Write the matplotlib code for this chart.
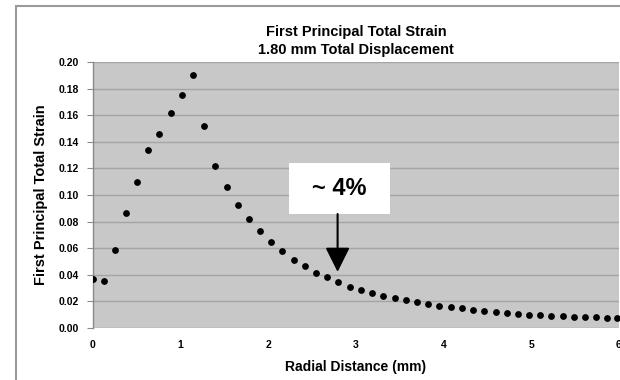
"""
First principal total strain vs radial distance, 1.80 mm displacement.
"""

import matplotlib
matplotlib.use('Agg')
import matplotlib.pyplot as plt
from matplotlib.patches import Rectangle
import numpy as np

# Values
radial_mm = [0.00, 0.12, 0.25, 0.375, 0.50, 0.626, 0.757, 0.886, 1.011, 1.14,
             1.266, 1.392, 1.526, 1.651, 1.78, 1.906, 2.03, 2.16, 2.29, 2.417,
             2.543, 2.67, 2.80, 2.93, 3.057, 3.186, 3.31, 3.44, 3.567, 3.694,
             3.823, 3.952, 4.078, 4.208, 4.334, 4.459, 4.592, 4.718, 4.843, 4.974,
             5.10, 5.229, 5.358, 5.483, 5.609, 5.739, 5.865, 5.98]
strain = [0.037, 0.035, 0.059, 0.0867, 0.110, 0.134, 0.146, 0.162, 0.175, 0.190,
          0.152, 0.122, 0.106, 0.0927, 0.082, 0.073, 0.0646, 0.0576, 0.0515, 0.0465,
          0.0414, 0.038, 0.0344, 0.0312, 0.0286, 0.0261, 0.0244, 0.0226, 0.0213, 0.0196,
          0.0181, 0.0169, 0.0161, 0.0148, 0.0139, 0.0128, 0.0118, 0.0111, 0.0106, 0.0101,
          0.0096, 0.0090, 0.0088, 0.0086, 0.0083, 0.0081, 0.0078, 0.0078]

x_ticks = [0, 1, 2, 3, 4, 5, 6]
y_ticks = [0.00, 0.02, 0.04, 0.06, 0.08, 0.10, 0.12, 0.14, 0.16, 0.18, 0.20]

callout_text = '~ 4%'
callout_x = 2.79
callout_tip = 0.0422

plt.rcParams['font.family'] = ['Liberation Sans', 'DejaVu Sans']
plt.rcParams['font.weight'] = 'bold'

fig = plt.figure(figsize=(6.2, 3.8), dpi=100)
ax = fig.add_axes([93 / 620, 1 - 328 / 380, 526 / 620, 266 / 380])

# outer chart frame (cropped at right and bottom)
fig.patches.append(Rectangle((16 / 620, -0.1), 1.2, 0.1 + 1 - 6 / 380,
                             transform=fig.transFigure, fill=False,
                             edgecolor='#9a9a9a', lw=1.5))

ax.set_facecolor('#c8c8c8')
ax.scatter(radial_mm, strain, s=24, color='black', zorder=3, linewidths=0)

ax.set_xlim(0, 6)
ax.set_ylim(0, 0.20)
ax.set_xticks(x_ticks)
ax.set_yticks(y_ticks)
ax.set_xticklabels([str(t) for t in x_ticks])
ax.set_yticklabels([f'{t:.2f}' for t in y_ticks])
ax.tick_params(axis='x', length=0, pad=9, labelsize=7.5)
ax.tick_params(axis='y', length=4, width=0.8, color='#8a8a8a', pad=6, labelsize=7.5)
ax.grid(True, axis='y', color='#a4a4a4', lw=1.0)
ax.set_axisbelow(True)
for side in ['top', 'right', 'bottom']:
    ax.spines[side].set_visible(False)
ax.spines['left'].set_color('#8a8a8a')
ax.spines['left'].set_linewidth(1.0)

ax.set_xlabel('Radial Distance (mm)', fontsize=10, fontweight='bold', labelpad=7)
ax.set_ylabel('First Principal Total Strain', fontsize=10.5, fontweight='bold', labelpad=8)
ax.set_title('First Principal Total Strain\n1.80 mm Total Displacement',
             fontsize=10.5, fontweight='bold', pad=6, linespacing=1.35)

# white callout box with arrow
ax.add_patch(Rectangle((2.234, 0.0857), 1.155, 0.0382, facecolor='white',
                       edgecolor='none', zorder=4))
ax.text(2.81, 0.1047, callout_text, ha='center', va='center', fontsize=17,
        fontweight='bold', zorder=5)
ax.annotate('', xy=(callout_x, callout_tip), xytext=(callout_x, 0.0857),
            arrowprops=dict(arrowstyle='-|>,head_length=1.5,head_width=0.75',
                            mutation_scale=10, lw=1.5, color='black',
                            shrinkA=0, shrinkB=0), zorder=5)

fig.savefig('out.png', dpi=100)
